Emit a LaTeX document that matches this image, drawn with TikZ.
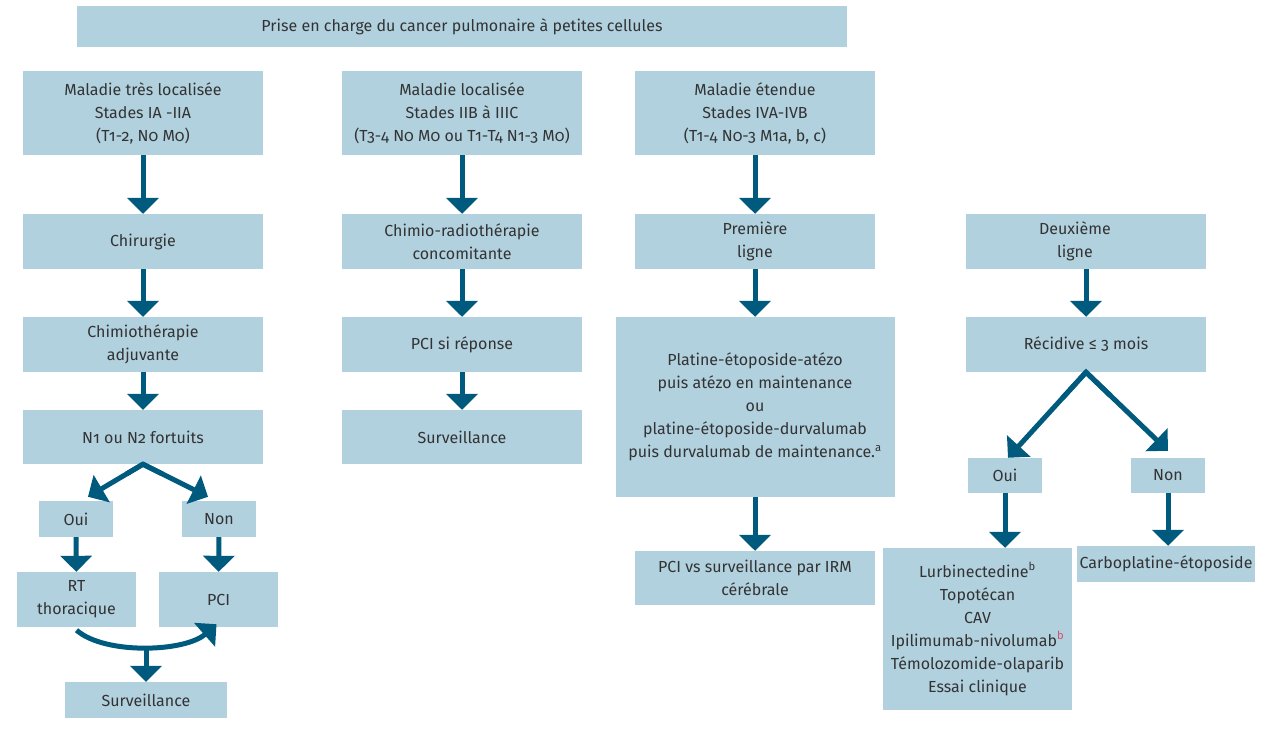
\documentclass[tikz,border=0pt]{standalone}
\usepackage{fontspec}
\setmainfont{Fira Sans}[Numbers=OldStyle]
\usepackage{xcolor}
\usepackage{tikz}
\usetikzlibrary{arrows.meta, calc}
\definecolor{boxblue}{HTML}{B1D1DF}
\definecolor{arrowblue}{HTML}{005A7D}
\definecolor{txtgray}{HTML}{333333}
\definecolor{refred}{HTML}{D2506E}
\tikzstyle{box} = [rectangle, fill=boxblue, text=txtgray, minimum width=240pt, minimum height=55pt, inner sep=0pt, align=center]
\tikzstyle{small} = [box, minimum width=74pt, minimum height=36pt]
\tikzstyle{arrow} = [line width=5pt, draw=arrowblue, -{Triangle[width=31pt,length=16pt]}]
\tikzstyle{pointe} = [line width=5pt, draw=arrowblue, line join=miter]

\begin{document}
\begin{tikzpicture}[x=1pt, y=-1pt, font=\fontsize{16pt}{23pt}\selectfont]
	\useasboundingbox (0,0) rectangle (1269,730);
	\node (titre) [box, minimum width=770pt, minimum height=41pt] at (462,26.5) {Prise en charge du cancer pulmonaire à petites cellules};
	% stades
	\node (loc1) [box, minimum height=84pt] at (143,113) {Maladie très localisée\\Stades IA -IIA\\(T1-2, N0 M0)};
	\node (loc2) [box, minimum height=84pt] at (462,113) {Maladie localisée\\Stades IIB à IIIC\\(T3-4 N0 M0 ou T1-T4 N1-3 M0)};
	\node (eten) [box, minimum height=84pt] at (755,113) {Maladie étendue\\Stades IVA-IVB\\(T1-4 N0-3 M1a, b, c)};
	% tres localisee
	\node (chir) [box, below of=loc1, node distance=128.5pt] {Chirurgie};
	\node (adju) [box, below of=chir, node distance=103pt] {Chimiothérapie\\adjuvante};
	\node (fort) [box, minimum height=54pt, below of=adju, node distance=92.5pt] {N1 ou N2 fortuits};
	\node (oui1) [small] at (76,519) {Oui};
	\node (non1) [small] at (219,519) {Non};
	\node (rt) [box, minimum width=119pt] at (76.5,599.5) {RT\\thoracique};
	\node (pci1) [box, minimum width=119pt] at (218.5,599.5) {PCI};
	\node (surv1) [box, minimum width=162pt, minimum height=36pt] at (146,700) {Surveillance};
	% localisee
	\node (crt) [box, below of=loc2, node distance=128.5pt] {Chimio-radiothérapie\\concomitante};
	\node (pcir) [box, below of=crt, node distance=103pt] {PCI si réponse};
	\node (surv2) [box, minimum height=54pt, below of=pcir, node distance=92.5pt] {Surveillance};
	% etendue
	\node (prem) [box, below of=eten, node distance=128.5pt] {Première\\ligne};
	\node (trt) [box, minimum width=279pt, minimum height=180pt, below of=prem, node distance=165.5pt] {Platine-étoposide-atézo\\puis atézo en maintenance\\ou\\platine-étoposide-durvalumab\\puis durvalumab de maintenance.\textsuperscript{a}};
	\node (irm) [box, minimum height=54pt, below of=trt, node distance=171pt] {PCI vs surveillance par IRM\\cérébrale};
	% deuxieme ligne
	\node (deux) [box] at (1086,241.5) {Deuxième\hspace*{22pt}\\ligne\hspace*{22pt}};
	\node (recid) [box, below of=deux, node distance=103pt] {Récidive ≤ 3 mois};
	\node (oui2) [small, minimum height=35pt] at (1005,475.5) {Oui};
	\node (non2) [small, minimum height=35pt] at (1168,475.5) {Non};
	\node (liste) [box, minimum width=189pt, minimum height=162pt] at (977.5,629) {Lurbinectedine\textsuperscript{b}\\Topotécan\\CAV\\Ipilimumab-nivolumab\textsuperscript{\color{refred}b}\\Témolozomide-olaparib\\Essai clinique};
	\node (carbo) [box, minimum width=178pt, minimum height=36pt] at (1166,564) {Carboplatine-étoposide};

	\draw [arrow] (loc1) -- (chir);
	\draw [arrow] (chir) -- (adju);
	\draw [arrow] (adju) -- (fort);
	\coordinate (bout1) at ([xshift=12pt,yshift=4pt]oui1.north);
	\coordinate (bout2) at ([xshift=-11pt,yshift=4pt]non1.north);
	\draw [arrow] (fort.south) -- (bout1);
	\draw [arrow] (fort.south) -- (bout2);
	\draw [pointe] ($(fort.south)!0.3!(bout1)$) -- (fort.south) -- ($(fort.south)!0.3!(bout2)$);
	\draw [arrow] (oui1) -- (rt);
	\draw [arrow] (non1) -- (pci1);
	\draw [arrow] ([yshift=-3pt]rt.south) .. controls (105,655) and (185,652) .. ([xshift=-2pt,yshift=3pt]pci1.south);
	\coordinate (creux) at (146,646);
	\draw [arrow] (creux) -- (creux |- surv1.north);

	\draw [arrow] (loc2) -- (crt);
	\draw [arrow] (crt) -- (pcir);
	\draw [arrow] (pcir) -- (surv2);

	\draw [arrow] (eten) -- (prem);
	\draw [arrow] (prem) -- (trt);
	\draw [arrow] (trt) -- (irm);

	\draw [arrow] (deux) -- (recid);
	\coordinate (bout3) at ([xshift=3pt]oui2.north);
	\coordinate (bout4) at ([yshift=7pt]non2.north);
	\draw [arrow] (recid.south) -- (bout3);
	\draw [arrow] (recid.south) -- (bout4);
	\draw [pointe] ($(recid.south)!0.3!(bout3)$) -- (recid.south) -- ($(recid.south)!0.3!(bout4)$);
	\draw [arrow] (oui2.south) -- (oui2.south |- liste.north);
	\draw [arrow] (non2.south) -- (non2.south |- carbo.north);
\end{tikzpicture}
\end{document}
